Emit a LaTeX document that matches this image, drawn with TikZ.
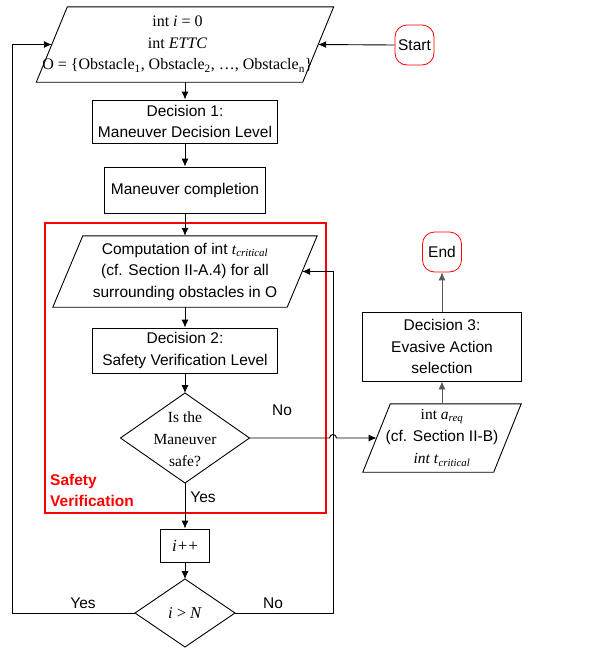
\documentclass[tikz,border=0pt]{standalone}
\usepackage{fontspec}
\setmainfont{Liberation Sans}
\newfontfamily\sansf{Liberation Sans}
\newfontfamily\serf{Liberation Serif}
\usetikzlibrary{shapes.geometric,arrows.meta,calc}
\newcommand\drawpara[2]{\draw[line] ($(#1.north west)+(#2,0)$) -- ($(#1.north east)+(#2,0)$) -- ($(#1.south east)-(#2,0)$) -- ($(#1.south west)-(#2,0)$) -- cycle;}
\begin{document}
\begin{tikzpicture}[x=1pt,y=-1pt,
  every node/.style={font=\fontsize{15.5}{21.5}\selectfont, inner sep=1pt},
  line/.style={line width=0.9pt},
  arr/.style={line width=0.9pt, -{Latex[length=8pt,width=7pt]}},
  grayarr/.style={arr, draw=black!65},
  box/.style 2 args={draw, line width=0.9pt, minimum width=#1, minimum height=#2, align=center, inner sep=1pt},
  para/.style 2 args={minimum width=#1, minimum height=#2, align=center, inner sep=0pt},
  term/.style={draw=red, line width=0.8pt, rounded corners=12pt, minimum width=39pt, minimum height=40pt, inner sep=0pt},
  serifnode/.style={font=\serf\fontsize{15.5}{22}\selectfont, align=center},
  dia/.style 2 args={draw, line width=0.9pt, diamond, minimum width=#1, minimum height=#2, inner sep=0pt, outer sep=0pt},
  lbl/.style={font=\fontsize{15.5}{18}\selectfont}
]
\fill[white] (0,0) rectangle (608,649);
\useasboundingbox (0,0) rectangle (608,649);

% main column
\node[para={266pt}{75pt}] (in1) at (185,44.5) {};
\drawpara{in1}{15.5}
\node[serifnode, font=\serf\fontsize{16}{21.5}\selectfont] (in1t) at (177.5,44)
  {int \textit{i} = 0\\ int \textit{ETTC}\\ O = \{Obstacle\textsubscript{1}, Obstacle\textsubscript{2}, \dots, Obstacle\textsubscript{n}\}};
\node[term] (start) at (414.5,45) {Start};
\node[box={185pt}{43pt}] (d1) at (185,121.5) {Decision 1:\\Maneuver Decision Level};
\node[box={161pt}{46pt}] (mc) at (185,190) {Maneuver completion};

\node[draw=red, line width=2pt, minimum width=281pt, minimum height=290pt, inner sep=0pt] (svbox) at (185.5,368) {};
\node[anchor=west, align=left, text=red, font=\bfseries\fontsize{15.5}{21}\selectfont] (svlbl) at (49,490) {Safety\\Verification};

\node[para={234pt}{71pt}] (comp) at (185,271.5)
  {Computation of int {\serf\itshape t\textsubscript{critical}}\\(cf. Section II-A.4) for all\\surrounding obstacles in O};
\drawpara{comp}{15}
\node[box={185pt}{45pt}] (d2) at (185,350.5) {Decision 2:\\Safety Verification Level};
\node[dia={129pt}{90pt}] (q1) at (185,438) {};
\node[serifnode] (q1t) at (185,439) {Is the\\Maneuver\\safe?};
\node[lbl] (nolbl1) at (282,410) {No};
\node[lbl] (yeslbl1) at (203,497) {Yes};

\node[box={49pt}{33pt}, font=\serf\fontsize{17}{18}\selectfont] (ipp) at (185,545.5) {\textit{i}\kern1pt+\kern1pt+};
\node[dia={100pt}{68pt}] (q2) at (185,613) {};
\node[serifnode, font=\serf\fontsize{16.5}{18}\selectfont] (q2t) at (185,613) {\textit{i} > \textit{N}};
\node[lbl] (yeslbl2) at (83,603) {Yes};
\node[lbl] (nolbl2) at (273,603) {No};

% right column
\node[para={130.5pt}{68pt}, serifnode] (ar) at (442,438)
  {int \textit{a}\textsubscript{\textit{req}}\\{\sansf (cf. Section II-B)}\\\textit{int t}\textsubscript{\textit{critical}}};
\drawpara{ar}{13.75}
\node[box={159pt}{69pt}] (d3) at (442,346.5) {Decision 3:\\Evasive Action\\selection};
\node[term] (end) at (442,252) {End};

% connectors
\draw[arr] (start.west) -- (in1.east);
\draw[arr] (in1.south) -- (d1.north);
\draw[arr] (d1.south) -- (mc.north);
\draw[arr] (mc.south) -- (comp.north);
\draw[arr] (comp.south) -- (d2.north);
\draw[arr] (d2.south) -- (q1.north);
\draw[arr] (q1.south) -- (ipp.north);
\draw[arr] (ipp.south) -- (q2.north);
\draw[arr] (q2.west) -- ++(-123,0) |- (in1.west);
\draw[arr] (q2.east) -- ++(98,0) |- (comp.east);
\coordinate (hop) at (333,438);
\draw[arr] (q1.east) -- ([xshift=-3.5pt]hop) arc[start angle=180,end angle=0,radius=3.5pt] -- (ar.west);
\draw[grayarr] (ar.north) -- (d3.south);
\draw[grayarr] (d3.north) -- (end.south);
\end{tikzpicture}
\end{document}
